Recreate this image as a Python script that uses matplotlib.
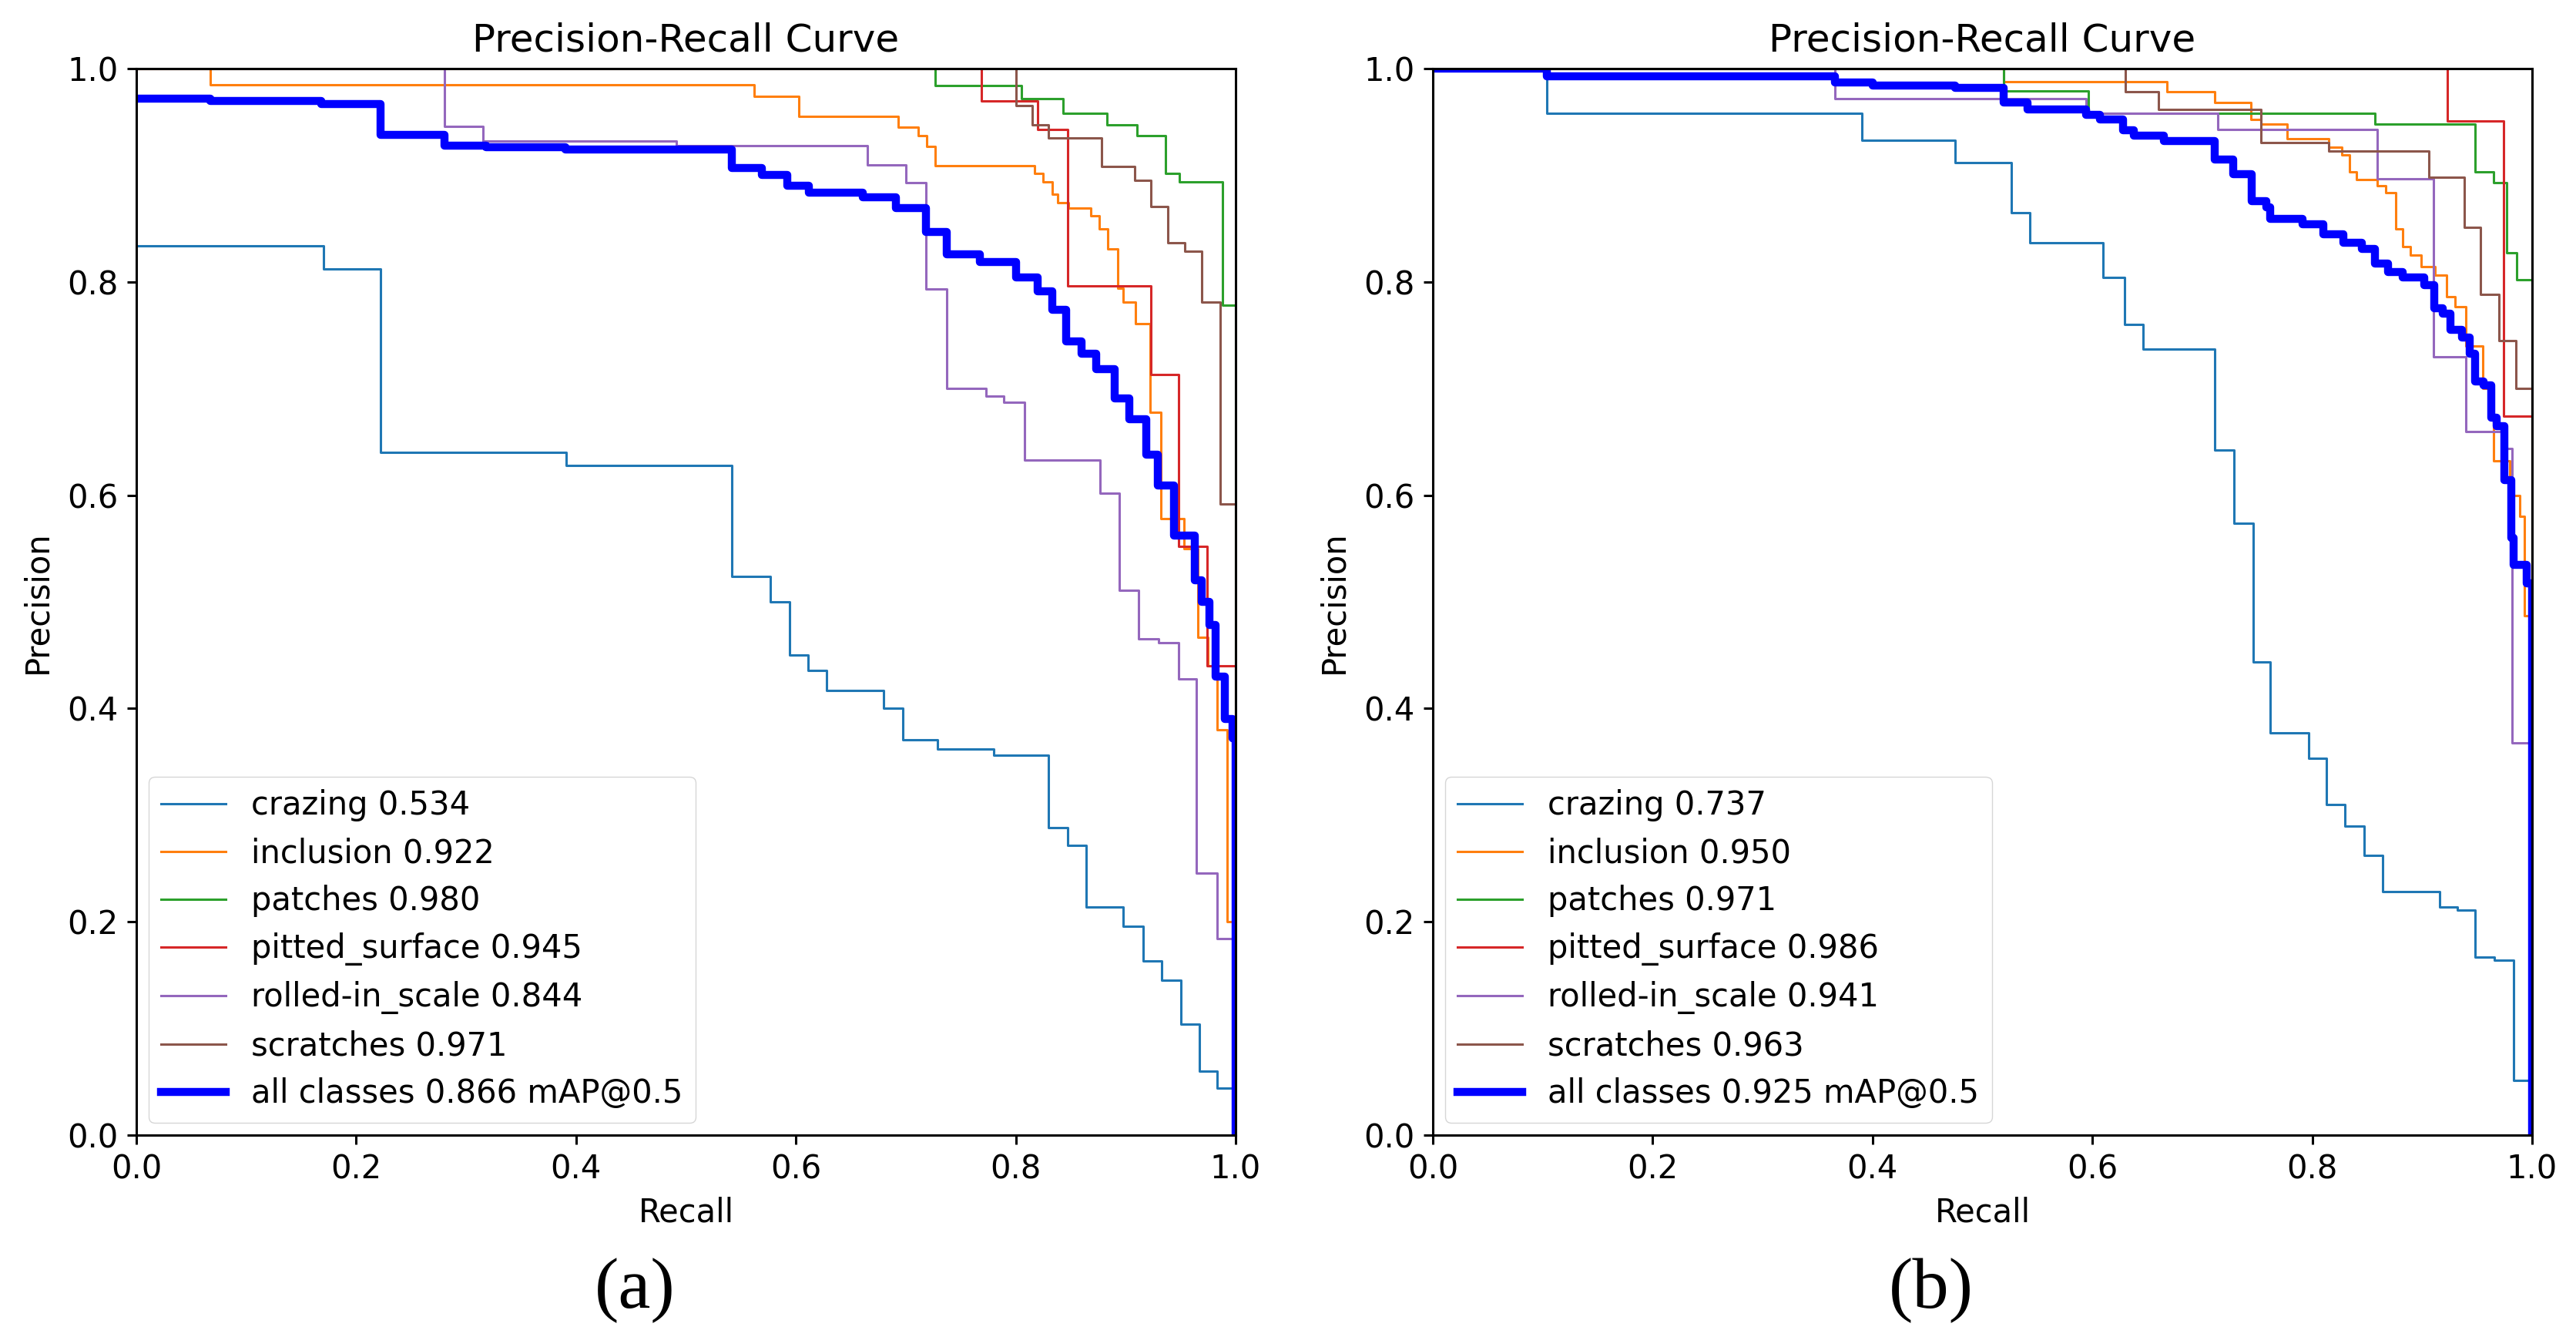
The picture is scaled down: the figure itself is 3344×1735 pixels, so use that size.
"""
PR curves for the two detectors, (a) and (b), redrawn from the published figure.
"""

import matplotlib
matplotlib.use("Agg")
import matplotlib.pyplot as plt


# ── Data (step vertices) ───────────────────────────────────────────────────────

class_names = ["crazing", "inclusion", "patches", "pitted_surface",
               "rolled-in_scale", "scratches"]

# (a)
ap_a     = [0.534, 0.922, 0.980, 0.945, 0.844, 0.971]
map_a    = 0.866

crazing_r_a   = [0, 0.170, 0.222, 0.391, 0.542, 0.577, 0.594, 0.611, 0.628, 0.680, 0.697,
                 0.729, 0.780, 0.830, 0.847, 0.864, 0.898, 0.916, 0.933, 0.950, 0.967, 0.983, 1.0]
crazing_p_a   = [0.834, 0.812, 0.640, 0.628, 0.524, 0.500, 0.450, 0.436, 0.417, 0.400, 0.371,
                 0.362, 0.356, 0.288, 0.272, 0.214, 0.196, 0.163, 0.145, 0.104, 0.060, 0.044, 0.0]

inclusion_r_a = [0, 0.067, 0.562, 0.603, 0.693, 0.711, 0.719, 0.727, 0.817, 0.825, 0.833, 0.838,
                 0.848, 0.868, 0.876, 0.884, 0.893, 0.898, 0.909, 0.922, 0.932, 0.953, 0.966,
                 0.975, 0.983, 0.992, 1.0]
inclusion_p_a = [1.0, 0.985, 0.974, 0.955, 0.945, 0.937, 0.927, 0.909, 0.902, 0.894, 0.882, 0.874,
                 0.869, 0.862, 0.850, 0.831, 0.794, 0.781, 0.761, 0.678, 0.578, 0.550, 0.467,
                 0.440, 0.380, 0.200, 0.0]

patches_r_a   = [0, 0.727, 0.805, 0.843, 0.883, 0.910, 0.936, 0.949, 0.988, 1.0]
patches_p_a   = [1.0, 0.984, 0.972, 0.958, 0.947, 0.937, 0.902, 0.894, 0.778, 0.0]

pitted_r_a    = [0, 0.769, 0.820, 0.847, 0.923, 0.948, 0.974, 1.0]
pitted_p_a    = [1.0, 0.970, 0.943, 0.796, 0.713, 0.552, 0.440, 0.0]

rolled_r_a    = [0, 0.280, 0.315, 0.491, 0.665, 0.700, 0.718, 0.737, 0.773, 0.789, 0.808, 0.877,
                 0.894, 0.912, 0.930, 0.948, 0.964, 0.983, 1.0]
rolled_p_a    = [1.0, 0.946, 0.932, 0.928, 0.910, 0.893, 0.793, 0.700, 0.693, 0.687, 0.633, 0.602,
                 0.511, 0.465, 0.462, 0.428, 0.246, 0.184, 0.0]

scratch_r_a   = [0, 0.800, 0.815, 0.830, 0.878, 0.908, 0.923, 0.938, 0.954, 0.969, 0.986, 1.0]
scratch_p_a   = [1.0, 0.965, 0.947, 0.935, 0.908, 0.895, 0.871, 0.837, 0.829, 0.781, 0.592, 0.0]

all_r_a       = [0, 0.067, 0.168, 0.222, 0.280, 0.318, 0.390, 0.542, 0.569, 0.592, 0.612, 0.661,
                 0.691, 0.718, 0.737, 0.767, 0.800, 0.820, 0.833, 0.846, 0.860, 0.873, 0.890,
                 0.903, 0.919, 0.929, 0.944, 0.963, 0.969, 0.976, 0.982, 0.990, 0.997, 1.0]
all_p_a       = [0.972, 0.970, 0.967, 0.938, 0.928, 0.926, 0.924, 0.907, 0.900, 0.890, 0.884, 0.879,
                 0.869, 0.847, 0.826, 0.819, 0.804, 0.791, 0.774, 0.744, 0.733, 0.718, 0.691,
                 0.671, 0.638, 0.609, 0.562, 0.520, 0.500, 0.478, 0.430, 0.390, 0.372, 0.0]

# (b)
ap_b     = [0.737, 0.950, 0.971, 0.986, 0.941, 0.963]
map_b    = 0.925

crazing_r_b   = [0, 0.104, 0.390, 0.475, 0.526, 0.543, 0.610, 0.629, 0.646, 0.711, 0.729, 0.746,
                 0.762, 0.797, 0.813, 0.830, 0.847, 0.864, 0.916, 0.932, 0.948, 0.966, 0.983, 1.0]
crazing_p_b   = [1.0, 0.958, 0.933, 0.912, 0.865, 0.837, 0.804, 0.760, 0.737, 0.642, 0.574, 0.444,
                 0.377, 0.353, 0.310, 0.290, 0.262, 0.228, 0.214, 0.211, 0.167, 0.164, 0.051, 0.0]

inclusion_r_b = [0, 0.519, 0.668, 0.711, 0.744, 0.753, 0.777, 0.815, 0.827, 0.834, 0.840, 0.859,
                 0.867, 0.876, 0.882, 0.889, 0.899, 0.912, 0.922, 0.930, 0.940, 0.955, 0.965,
                 0.980, 0.989, 0.993, 1.0]
inclusion_p_b = [1.0, 0.988, 0.978, 0.968, 0.952, 0.948, 0.934, 0.926, 0.919, 0.903, 0.896, 0.890,
                 0.884, 0.850, 0.833, 0.825, 0.814, 0.806, 0.786, 0.777, 0.740, 0.700, 0.632,
                 0.600, 0.580, 0.487, 0.0]

patches_r_b   = [0, 0.519, 0.596, 0.857, 0.948, 0.965, 0.977, 0.986, 1.0]
patches_p_b   = [1.0, 0.979, 0.958, 0.948, 0.903, 0.893, 0.827, 0.802, 0.0]

pitted_r_b    = [0, 0.923, 0.974, 1.0]
pitted_p_b    = [1.0, 0.951, 0.674, 0.0]

rolled_r_b    = [0, 0.366, 0.594, 0.714, 0.859, 0.910, 0.940, 0.974, 0.982, 1.0]
rolled_p_b    = [1.0, 0.972, 0.958, 0.943, 0.897, 0.730, 0.660, 0.644, 0.368, 0.0]

scratch_r_b   = [0, 0.630, 0.660, 0.753, 0.815, 0.906, 0.938, 0.953, 0.970, 0.985, 1.0]
scratch_p_b   = [1.0, 0.978, 0.962, 0.931, 0.923, 0.898, 0.851, 0.788, 0.745, 0.700, 0.0]

all_r_b       = [0, 0.104, 0.366, 0.400, 0.475, 0.519, 0.541, 0.594, 0.607, 0.628, 0.638, 0.665,
                 0.711, 0.728, 0.745, 0.758, 0.762, 0.791, 0.810, 0.828, 0.845, 0.857, 0.869,
                 0.882, 0.902, 0.911, 0.919, 0.926, 0.936, 0.943, 0.948, 0.956, 0.963, 0.968,
                 0.975, 0.981, 0.983, 0.995, 1.0]
all_p_b       = [1.0, 0.993, 0.987, 0.984, 0.982, 0.968, 0.962, 0.957, 0.952, 0.942, 0.937, 0.932,
                 0.915, 0.901, 0.876, 0.870, 0.859, 0.854, 0.845, 0.837, 0.831, 0.817, 0.809,
                 0.804, 0.797, 0.775, 0.770, 0.755, 0.748, 0.733, 0.707, 0.703, 0.673, 0.665,
                 0.614, 0.560, 0.535, 0.517, 0.0]

ticks       = [0.0, 0.2, 0.4, 0.6, 0.8, 1.0]
tick_labels = ["0.0", "0.2", "0.4", "0.6", "0.8", "1.0"]


# ── Plot helpers ───────────────────────────────────────────────────────────────

FS      = 30
THIN    = 2.2
THICK   = 7.5
COLORS  = ["#1f77b4", "#ff7f0e", "#2ca02c", "#d62728", "#9467bd", "#8c564b"]


def pr_panel(ax, curves, aps, mean_ap, all_r, all_p):
    for (r, p), name, ap, c in zip(curves, class_names, aps, COLORS):
        ax.step(r, p, where="post", color=c, linewidth=THIN, label=f"{name} {ap:.3f}")
    ax.step(all_r, all_p, where="post", color="blue", linewidth=THICK,
            label=f"all classes {mean_ap:.3f} mAP@0.5")

    ax.set_xlim(0, 1)
    ax.set_ylim(0, 1)
    ax.set_xticks(ticks)
    ax.set_xticklabels(tick_labels)
    ax.set_yticks(ticks)
    ax.set_yticklabels(tick_labels)
    ax.tick_params(labelsize=FS, length=8.5, width=2.2, pad=8.5)
    for s in ax.spines.values():
        s.set_linewidth(2.2)
    ax.set_xlabel("Recall", fontsize=FS, labelpad=10)
    ax.set_ylabel("Precision", fontsize=FS, labelpad=13)
    ax.set_title("Precision-Recall Curve", fontsize=36, pad=16)
    ax.legend(loc="lower left", fontsize=FS, borderaxespad=0.38, labelspacing=0.48)


fig = plt.figure(figsize=(33.44, 17.35), dpi=100)

ax_a = fig.add_axes([0.05293, 0.15101, 0.42674, 0.79769])
ax_b = fig.add_axes([0.55622, 0.15101, 0.42674, 0.79769])

curves_a = [(crazing_r_a, crazing_p_a), (inclusion_r_a, inclusion_p_a),
            (patches_r_a, patches_p_a), (pitted_r_a, pitted_p_a),
            (rolled_r_a, rolled_p_a), (scratch_r_a, scratch_p_a)]
curves_b = [(crazing_r_b, crazing_p_b), (inclusion_r_b, inclusion_p_b),
            (patches_r_b, patches_p_b), (pitted_r_b, pitted_p_b),
            (rolled_r_b, rolled_p_b), (scratch_r_b, scratch_p_b)]

pr_panel(ax_a, curves_a, ap_a, map_a, all_r_a, all_p_a)
pr_panel(ax_b, curves_b, ap_b, map_b, all_r_b, all_p_b)

# sub-figure captions
fig.text(824 / 3344, 1 - 1675 / 1735, "(a)", ha="center", va="center",
         family="Liberation Serif", fontsize=68)
fig.text(2507 / 3344, 1 - 1675 / 1735, "(b)", ha="center", va="center",
         family="Liberation Serif", fontsize=68)

plt.savefig("out.png", dpi=100)
plt.close()
